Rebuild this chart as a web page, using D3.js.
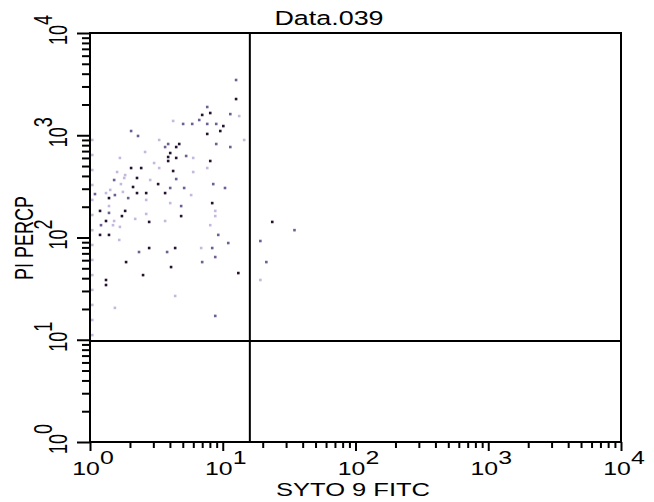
<!DOCTYPE html>
<html>
<head>
<meta charset="utf-8">
<script src="https://cdn.jsdelivr.net/npm/d3@7"></script>
<style>
  body { margin: 0; background: #fff; }
  svg { display: block; }
  text { font-family: "Liberation Sans", Arial, sans-serif; fill: #000; }
</style>
</head>
<body>
<svg id="chart" width="654" height="502"></svg>
<script>
// events: FITC (x), PerCP (y), events per dot
const fitc = [
  12.6, 12.6, 7.64, 8.05, 7.00, 11.4, 13.3, 6.65, 4.23, 5.03,
  5.89, 7.64, 8.93, 10.1, 9.58, 2.04, 7.64, 2.30, 3.32, 3.88,
  4.70, 8.93, 14.5, 3.68, 4.46, 11.4, 4.02, 2.60, 3.88, 5.30,
  4.46, 5.99, 1.68, 3.88, 8.05, 3.04, 2.04, 2.43, 3.32, 7.64,
  4.23, 2.26, 1.81, 1.60, 1.84, 1.52, 5.99, 4.46, 2.84, 3.26,
  1.71, 2.11, 8.48, 1.42, 4.02, 5.12, 10.4, 1.32, 1.77, 2.26,
  2.65, 3.68, 1.09, 1.54, 1.39, 1.94, 2.65, 5.78, 4.02, 4.86,
  8.33, 1.39, 1.19, 1.39, 1.84, 2.65, 1.74, 4.86, 8.78, 8.78,
  2.19, 1.32, 2.79, 1.52, 3.68, 1.68, 1.49, 1.21, 8.05, 1.19,
  1.39, 1.66, 9.25, 11.0, 2.79, 4.38, 6.88, 8.33, 19.2, 2.34,
  3.81, 8.78, 1.87, 7.00, 21.3, 4.08, 2.51, 13.1, 1.32, 1.32,
  19.2, 4.38, 1.54, 8.78, 23.6, 34.7,
  1.04, 1.04, 1.04, 1.04, 1.04, 1.04, 1.04,
  1.04, 1.04, 1.04, 1.04, 1.04, 1.04, 1.04
];
const percp = [
  3470, 2260, 1890, 1650, 1580, 1610, 1540, 1410, 1380, 1290,
  1290, 1290, 1290, 1230, 1100, 1100, 1030, 984, 899, 821,
  821, 821, 899, 767, 767, 767, 670, 686, 613, 627,
  600, 600, 600, 560, 560, 535, 478, 478, 478, 478,
  447, 382, 382, 437, 408, 365, 437, 373, 365, 333,
  333, 312, 333, 292, 305, 305, 305, 272, 279, 272,
  272, 272, 266, 260, 243, 243, 233, 260, 217, 203,
  217, 203, 182, 174, 182, 170, 162, 162, 182, 162,
  152, 145, 142, 145, 145, 127, 132, 132, 132, 106,
  106, 94.6, 106, 88.3, 78.9, 78.9, 78.9, 78.9, 92.4, 72.1,
  72.1, 64.4, 57.5, 57.5, 57.5, 51.4, 42.9, 44.9, 38.4, 34.3,
  38.4, 26.8, 20.5, 17.1, 142, 118,
  899, 641, 457, 326, 233, 166, 118,
  84.5, 60.3, 42.9, 30.7, 21.9, 15.6, 11.1
];
const events = [
  2, 3, 2, 3, 3, 2, 1, 2, 1, 2,
  2, 2, 2, 3, 3, 2, 3, 2, 1, 2,
  3, 2, 1, 2, 3, 2, 3, 1, 3, 2,
  3, 1, 1, 3, 3, 1, 3, 3, 1, 1,
  3, 3, 1, 1, 1, 2, 1, 2, 1, 3,
  1, 3, 2, 1, 2, 2, 2, 1, 1, 3,
  3, 3, 2, 2, 3, 2, 1, 1, 1, 2,
  3, 1, 3, 2, 3, 1, 3, 3, 1, 1,
  1, 3, 3, 1, 1, 1, 1, 2, 1, 3,
  3, 1, 2, 2, 3, 3, 1, 2, 2, 2,
  2, 2, 3, 2, 2, 3, 3, 3, 3, 3,
  1, 1, 1, 2, 3, 2,
  1, 1, 1, 1, 1, 1, 1,
  1, 1, 1, 1, 1, 1, 1
];
const decades = [1, 10, 100, 1000, 10000];
const exponents = ["0", "1", "2", "3", "4"];
const gateX = 16.0;
const gateY = 9.7;
const title = "Data.039";
const xLabel = "SYTO 9 FITC";
const yLabel = "PI PERCP";

const svg = d3.select("#chart");
const plotLeft = 90, plotRight = 621, plotTop = 33, plotBottom = 442;
const stretch = 1.38; // glyphs in the original are drawn wide

const x = d3.scaleLog().domain([1, 1e4]).range([plotLeft, plotRight]);
const y = d3.scaleLog().domain([1, 1e4]).range([plotBottom, plotTop]);

const minors = [];
decades.slice(0, 4).forEach((d) => {
  for (let k = 2; k <= 9; k++) minors.push(k * d);
});

const color = d3.scaleOrdinal().domain([1, 2, 3]).range(["#c4b9dd", "#6e5f92", "#24122e"]);

// ticks
function tickAxis(axis, size, translate) {
  const g = svg.append("g")
    .attr("transform", translate)
    .call(axis.tickSizeOuter(0).tickSize(size).tickFormat(""));
  g.select(".domain").remove();
  g.selectAll("line").attr("stroke", "#000").attr("stroke-width", 2);
}
tickAxis(d3.axisLeft(y).tickValues(minors), 8, `translate(${plotLeft},0)`);
tickAxis(d3.axisLeft(y).tickValues(decades), 13, `translate(${plotLeft},0)`);
tickAxis(d3.axisBottom(x).tickValues(minors), 6, `translate(0,${plotBottom})`);
tickAxis(d3.axisBottom(x).tickValues(decades), 9, `translate(0,${plotBottom})`);

// dots
const points = fitc.map((v, i) => ({ fx: v, py: percp[i], n: events[i] }));
svg.append("g")
  .selectAll("rect")
  .data(points)
  .join("rect")
  .attr("x", (p) => x(p.fx) - 1.3)
  .attr("y", (p) => y(p.py) - 1.3)
  .attr("width", 2.6)
  .attr("height", 2.6)
  .attr("fill", (p) => color(p.n));

// quadrant gates
svg.append("line")
  .attr("x1", x(gateX)).attr("x2", x(gateX))
  .attr("y1", plotTop).attr("y2", plotBottom)
  .attr("stroke", "#000").attr("stroke-width", 2);
svg.append("line")
  .attr("x1", plotLeft).attr("x2", plotRight)
  .attr("y1", y(gateY)).attr("y2", y(gateY))
  .attr("stroke", "#000").attr("stroke-width", 2);

// frame
svg.append("rect")
  .attr("x", plotLeft).attr("y", plotTop)
  .attr("width", plotRight - plotLeft).attr("height", plotBottom - plotTop)
  .attr("fill", "none").attr("stroke", "#000").attr("stroke-width", 2);

// tick labels: 10 with raised exponent
function powerLabel(sel) {
  sel.append("tspan").text("10");
  sel.append("tspan").attr("dy", -11).text((d, i) => exponents[i]);
}
svg.append("g")
  .selectAll("text")
  .data(decades)
  .join("text")
  .attr("transform", (d) => `translate(${x(d) + 3},475) scale(${stretch},1)`)
  .attr("text-anchor", "middle")
  .attr("font-size", 18)
  .call(powerLabel);
svg.append("g")
  .selectAll("text")
  .data(decades)
  .join("text")
  .attr("transform", (d) => `translate(67,${y(d) - 3}) scale(${stretch},1) rotate(-90)`)
  .attr("text-anchor", "middle")
  .attr("font-size", 18)
  .call(powerLabel);

// titles
svg.append("text")
  .attr("transform", `translate(329,25) scale(${stretch},1)`)
  .attr("text-anchor", "middle")
  .attr("font-size", 19.5)
  .text(title);
svg.append("text")
  .attr("transform", `translate(353,496) scale(${stretch},1)`)
  .attr("text-anchor", "middle")
  .attr("font-size", 18.5)
  .text(xLabel);
svg.append("text")
  .attr("transform", `translate(33,238) scale(${stretch},1) rotate(-90)`)
  .attr("text-anchor", "middle")
  .attr("font-size", 18)
  .text(yLabel);
</script>
</body>
</html>
